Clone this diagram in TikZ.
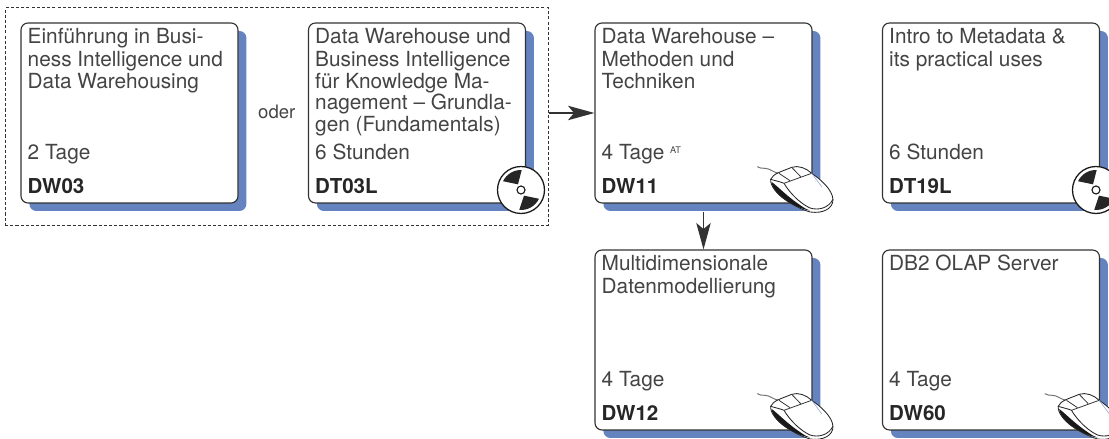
\documentclass[tikz,border=0pt]{standalone}
\usepackage{fontspec}
\setmainfont{TeX Gyre Heros}
\usetikzlibrary{calc,arrows.meta,shadows}
\definecolor{kursblau}{HTML}{6483BF}
\definecolor{linie}{HTML}{333333}
\definecolor{schrift}{HTML}{444444}
\tikzset{
	kasten/.style={draw=linie, fill=white, line width=0.8pt, rounded corners=0.175cm, minimum width=5.425cm, minimum height=4.5cm, inner sep=0pt,
		general shadow={shadow xshift=0.21cm, shadow yshift=-0.2cm, fill=kursblau, draw=none}},
	titel/.style={text=schrift, anchor=north west, align=left, inner sep=0pt, font=\fontsize{14.8}{15.3}\selectfont, xshift=0.175cm, yshift=-0.14cm},
	dauer/.style={text=schrift, anchor=base west, inner sep=0pt, font=\fontsize{14.8}{15.3}\selectfont, xshift=0.175cm, yshift=1.105cm},
	kurz/.style={text=black!85, anchor=base west, inner sep=0pt, font=\fontsize{14.6}{15.3}\selectfont\bfseries, xshift=0.175cm, yshift=0.26cm},
	gruppe/.style={draw=linie, line width=0.7pt, dash pattern=on 2.2pt off 1.5pt, minimum width=13.5875cm, minimum height=5.425cm, inner sep=0pt},
	pfeil/.style={draw=linie, line width=1pt, -{Stealth[length=0.66cm, width=0.36cm, inset=0.15cm]}},
}
\def\cdicon(#1){
	\draw[draw=black!90, fill=white, line width=0.9pt] (#1) circle (0.5875);
	\fill[black!85] ($(#1)+(154:0.5)$) arc (154:88:0.5) -- ($(#1)+(118:0.16)$) -- cycle;
	\fill[black!85] ($(#1)+(265:0.5)$) arc (265:334:0.5) -- ($(#1)+(298:0.16)$) -- cycle;
	\draw[draw=black!90, fill=white, line width=0.8pt] (#1) circle (0.1);
}
\def\mouseicon(#1){
	\begin{scope}[shift={(#1)}, x=0.00833cm, y=-0.00833cm]
		\draw[black!55, line width=0.7pt] (207,100) .. controls (190,98) and (180,85) .. (165,85) .. controls (155,85) and (150,85) .. (142,80);
		\fill[white] (182,118) .. controls (190,100) and (215,95) .. (245,82) .. controls (265,75) and (290,85) .. (305,100) .. controls (335,120) and (367,150) .. (369,178) .. controls (370,205) and (340,222) .. (300,216) .. controls (260,205) and (180,160) .. (182,118) -- cycle;
		\fill[black!90] (185,126) .. controls (205,140) and (230,170) .. (285,205) .. controls (290,208) and (295,210) .. (300,212) .. controls (260,205) and (190,170) .. (185,126) -- cycle;
		\draw[black!85, line width=0.6pt] (182,118) .. controls (190,100) and (215,95) .. (245,82) .. controls (265,75) and (290,85) .. (305,100) .. controls (335,120) and (367,150) .. (369,178) .. controls (370,205) and (340,222) .. (300,216) .. controls (260,205) and (180,160) .. (182,118) -- cycle;
		\draw[black!85, line width=0.6pt] (182,118) .. controls (195,122) and (210,125) .. (222,130) .. controls (240,160) and (270,190) .. (300,204) .. controls (325,212) and (355,205) .. (369,178);
		\draw[black!80, line width=0.55pt] (222,130) -- (305,100);
		\draw[black!80, line width=0.55pt] (207,100) -- (240,122);
		\draw[black!80, line width=0.55pt] (245,82) -- (272,110);
		\draw[kursblau!70, line width=0.4pt] (305,100) -- (335,140);
	\end{scope}
}

\begin{document}
\begin{tikzpicture}
	%%%%% START %%%%%
	\useasboundingbox (0, 0) rectangle (27.725, 10.975);

	\node[gruppe] (auswahl) at (6.92, 8.0625) {};

	\node[kasten] (dw03) at (3.2375, 8.15) {};
	\node[titel] (dw03t) at (dw03.north west) {\strut Einführung in Busi-\\ness Intelligence und\\Data Warehousing};
	\node[dauer] (dw03d) at (dw03.south west) {2 Tage};
	\node[kurz] (dw03k) at (dw03.south west) {DW03};

	\node[text=schrift, inner sep=0pt, font=\fontsize{13.2}{15}\selectfont] (oder) at (6.92, 8.175) {oder};

	\node[kasten] (dt03l) at (10.425, 8.15) {};
	\node[titel] (dt03lt) at (dt03l.north west) {\strut Data Warehouse und\\Business Intelligence\\für Knowledge Ma-\\nagement – Grundla-\\gen (Fundamentals)};
	\node[dauer] (dt03ld) at (dt03l.south west) {6 Stunden};
	\node[kurz] (dt03lk) at (dt03l.south west) {DT03L};
	\cdicon(13.025, 6.225)

	\node[kasten] (dw11) at (17.5875, 8.15) {};
	\node[titel] (dw11t) at (dw11.north west) {\strut Data Warehouse –\\Methoden und\\Techniken};
	\node[dauer] (dw11d) at (dw11.south west) {4 Tage \raisebox{4.3pt}{\fontsize{6.5}{6.5}\selectfont AT}};
	\node[kurz] (dw11k) at (dw11.south west) {DW11};
	\mouseicon(17.75, 7.475)

	\node[kasten] (dt19l) at (24.775, 8.15) {};
	\node[titel] (dt19lt) at (dt19l.north west) {\strut Intro to Metadata \&\\its practical uses};
	\node[dauer] (dt19ld) at (dt19l.south west) {6 Stunden};
	\node[kurz] (dt19lk) at (dt19l.south west) {DT19L};
	\cdicon(27.4, 6.225)

	\node[kasten] (dw12) at (17.5875, 2.475) {};
	\node[titel] (dw12t) at (dw12.north west) {\strut Multidimensionale\\Datenmodellierung};
	\node[dauer] (dw12d) at (dw12.south west) {4 Tage};
	\node[kurz] (dw12k) at (dw12.south west) {DW12};
	\mouseicon(17.75, 1.8)

	\node[kasten] (dw60) at (24.775, 2.475) {};
	\node[titel] (dw60t) at (dw60.north west) {\strut DB2 OLAP Server};
	\node[dauer] (dw60d) at (dw60.south west) {4 Tage};
	\node[kurz] (dw60k) at (dw60.south west) {DW60};
	\mouseicon(24.9375, 1.8)

	\draw[pfeil] (auswahl.east |- dw11.west) -- (dw11.west);
	\draw[pfeil, shorten <=0.2cm] (dw11.south) -- (dw12.north);
	%%%%% END %%%%%
\end{tikzpicture}
\end{document}
